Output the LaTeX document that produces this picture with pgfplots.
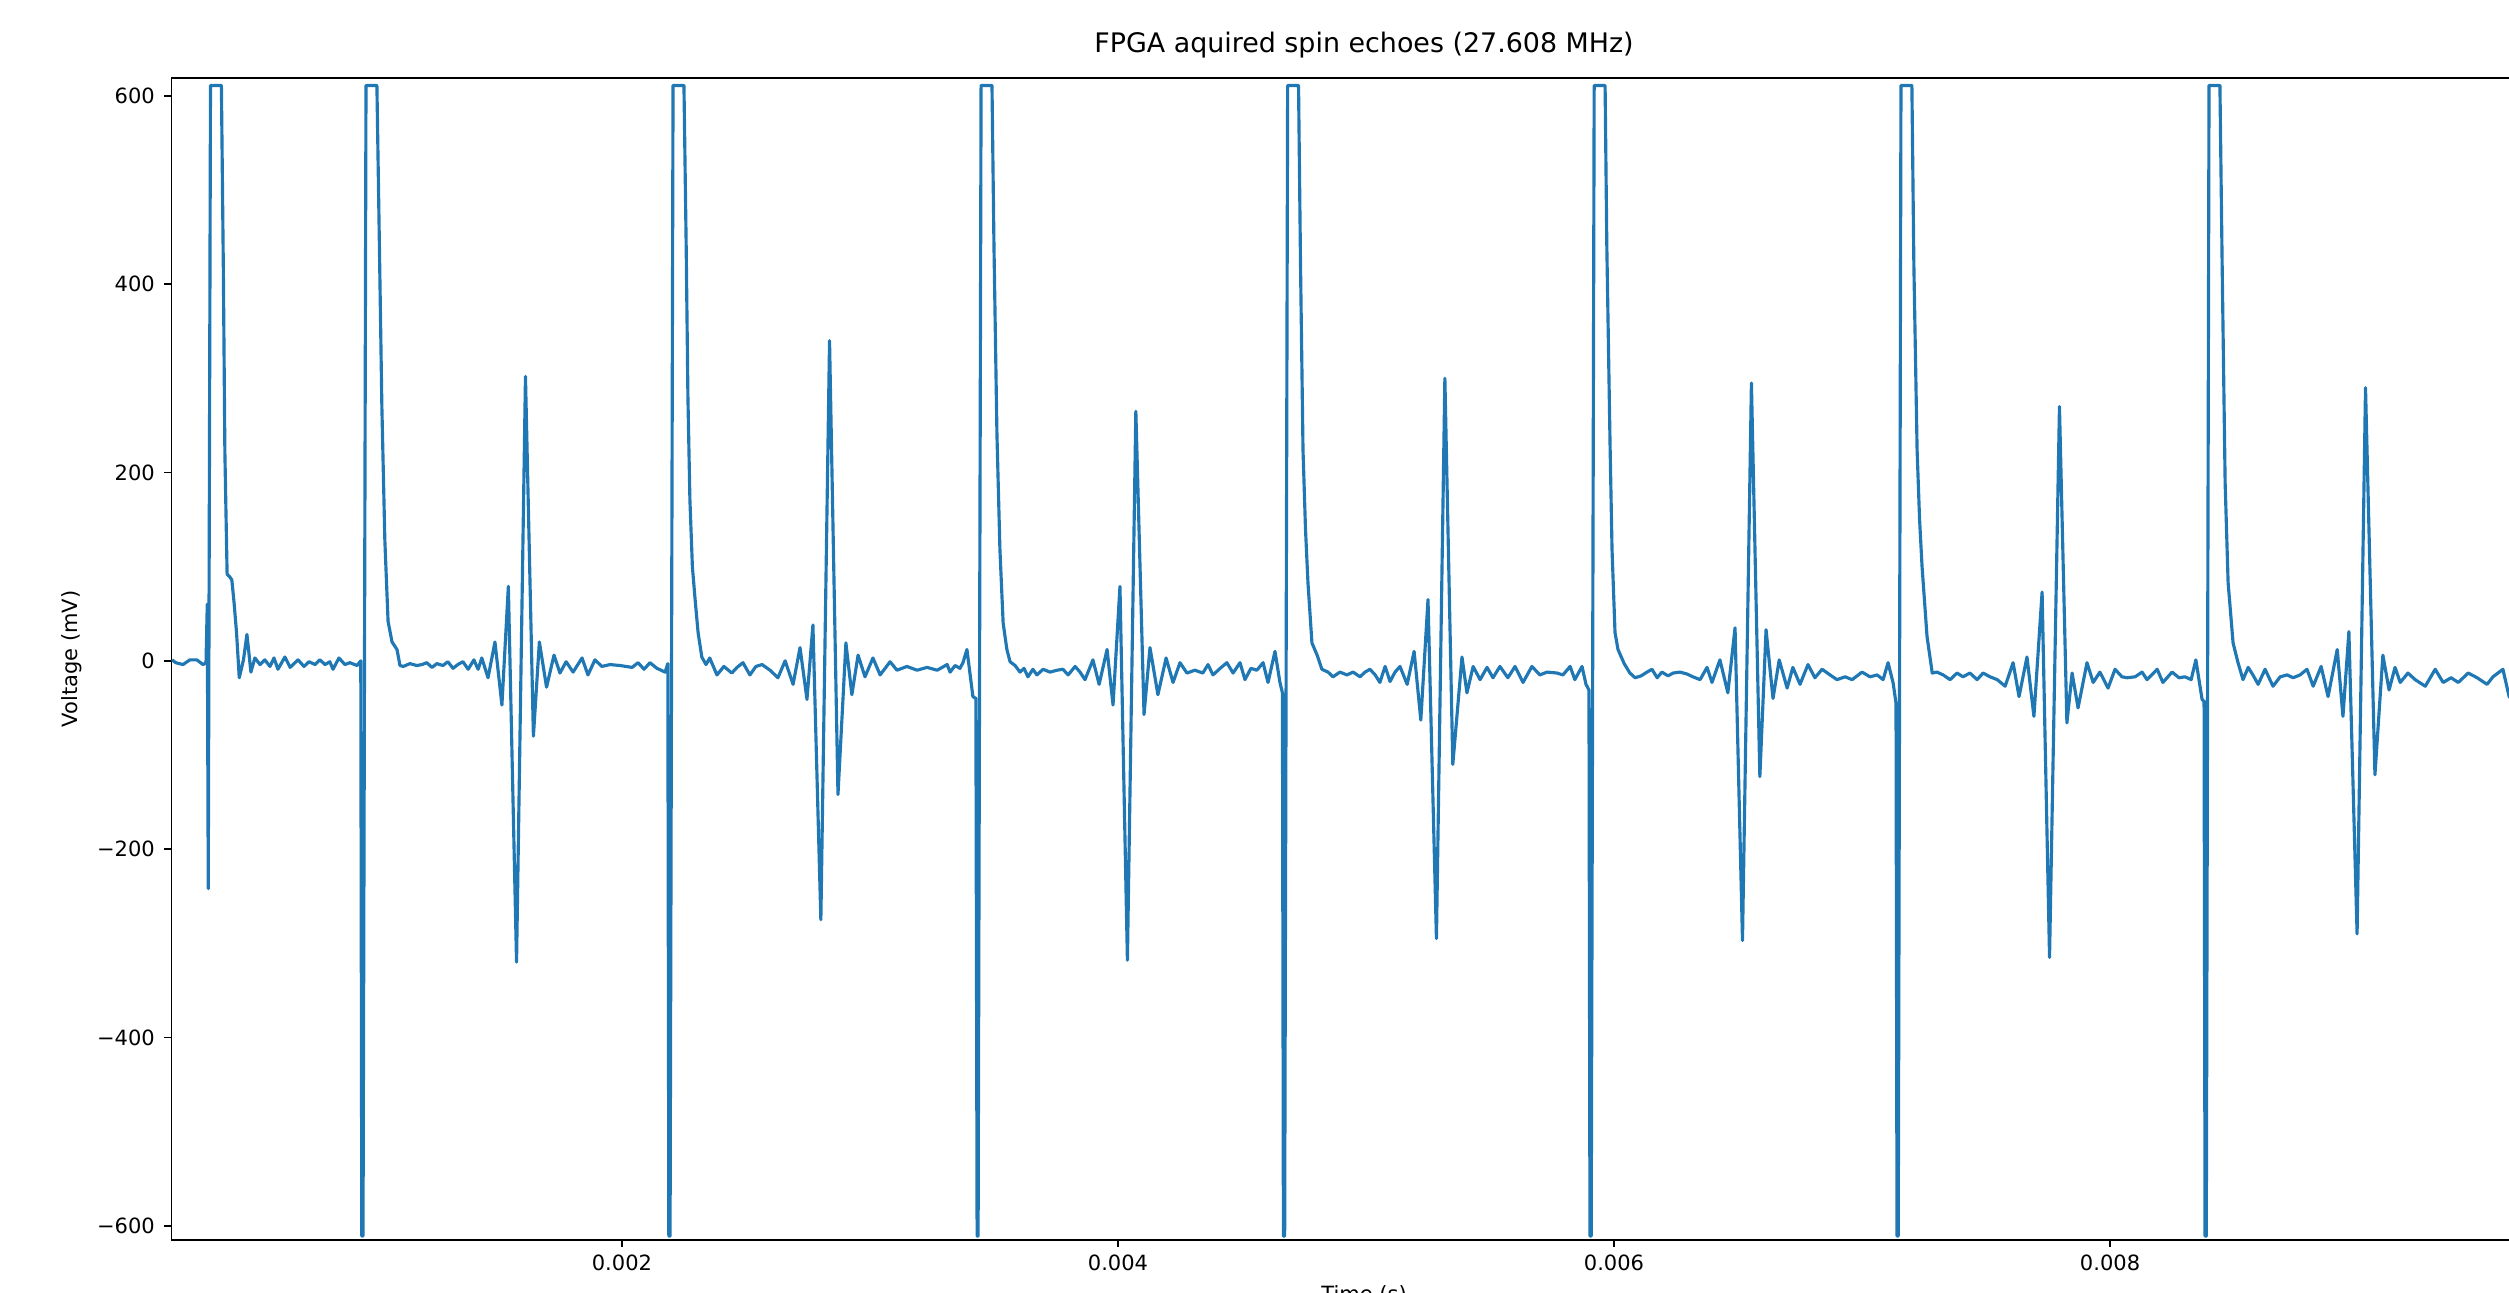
\documentclass[border=0pt]{standalone}
\usepackage{fontspec}
\setmainfont{DejaVu Sans}
\usepackage{pgfplots}
\pgfplotsset{compat=1.18}
\definecolor{mplblue}{RGB}{31,119,180}
% time in microseconds, voltage in mV
\begin{document}
\begin{tikzpicture}
\useasboundingbox (-81.6pt,-25.2pt) rectangle (1112.7pt,590.2pt);
\begin{axis}[
    at={(0pt,0pt)}, anchor=south west,
    scale only axis,
    width=1135.3pt, height=553.1pt,
    xmin=183.5, xmax=9800.5,
    ymin=-615, ymax=619,
    axis line style={line width=0.8pt, black},
    tick align=outside,
    major tick length=3.5pt,
    every tick/.style={black, line width=0.8pt},
    tick pos=left,
    xtick={2000,4000,6000,8000},
    xticklabels={0.002,0.004,0.006,0.008},
    ytick={-600,-400,-200,0,200,400,600},
    yticklabels={−600,−400,−200,0,200,400,600},
    ticklabel style={font=\fontsize{10}{12}\selectfont, inner sep=0pt},
    xticklabel style={anchor=north, yshift=-3.6pt},
    yticklabel style={anchor=east, xshift=-4.2pt},
    title={FPGA aquired spin echoes (27.608 MHz)},
    title style={at={(axis description cs:0.5,1)}, anchor=base, yshift=6.2pt,
        font=\fontsize{12.8}{15}\selectfont, inner sep=0pt},
    xlabel={Time (s)},
    xlabel style={at={(axis description cs:0.5,0)}, anchor=base, yshift=-29.5pt,
        font=\fontsize{10}{12}\selectfont, inner sep=0pt},
    ylabel={Voltage (mV)},
    ylabel style={at={(axis description cs:-0.0417,0.5)}, anchor=center,
        font=\fontsize{10}{12}\selectfont, inner sep=0pt},
]
\addplot[mplblue, line width=1.5pt, line join=round, mark=none] coordinates {
(186,1) (201,-2) (230,-4) (258,1) (286,1) (311,-4) (323,-2) (328,60) (332,-242)
(341,611) (385,611) (393,412) (399,222) (408,92) (419,89) (427,86) (436,62) (446,30)
(457,-18) (474,1) (488,28) (504,-12) (520,3) (541,-4) (560,1) (581,-6) (597,3) (613,-9)
(641,4) (662,-7) (694,1) (718,-6) (738,-1) (763,-4) (782,1) (803,-4) (822,-1) (835,-9)
(859,3) (883,-4) (903,-2) (932,-5) (947,0)
(951,-611) (956,-611) (968,611) (1012,611) (1021,459) (1032,270) (1044,128) (1057,42)
(1073,20) (1093,12) (1105,-5) (1118,-6)
(1145,-3) (1173,-5) (1194,-4) (1213,-2) (1234,-7) (1254,-3) (1278,-5) (1298,-1)
(1319,-8) (1338,-4) (1359,-1) (1380,-9) (1403,1) (1420,-9) (1435,3) (1460,-18)
(1488,20) (1516,-47) (1542,79) (1575,-320) (1611,302) (1643,-80) (1667,20) (1696,-28)
(1726,6) (1750,-13) (1775,-1) (1803,-12) (1839,3) (1863,-15) (1891,1) (1919,-6)
(1952,-4) (1992,-5) (2041,-7) (2065,-2) (2089,-9) (2113,-2) (2141,-8) (2174,-12) (2185,-3)
(2189,-611) (2194,-611) (2206,611) (2250,611) (2259,440) (2266,280) (2274,171)
(2284,100) (2295,65) (2307,30) (2322,4) (2339,-4)
(2354,3) (2383,-15) (2411,-6) (2443,-13) (2464,-7) (2488,-2) (2516,-15) (2540,-6)
(2565,-4) (2597,-10) (2629,-18) (2658,0) (2690,-25) (2718,14) (2746,-41) (2770,38)
(2802,-275) (2837,340) (2871,-142) (2903,19) (2927,-36) (2952,6) (2980,-17) (3012,3)
(3041,-15) (3081,-1) (3109,-10) (3149,-6) (3190,-10) (3230,-7) (3271,-10) (3311,-4)
(3323,-12) (3343,-5) (3363,-8) (3375,-2) (3391,12) (3415,-38) (3427,-40)
(3432,-611) (3436,-611) (3448,611) (3492,611) (3500,440) (3512,240) (3524,118)
(3537,40) (3552,12) (3565,-1)
(3585,-5) (3605,-12) (3621,-8) (3637,-17) (3657,-9) (3673,-15) (3698,-9) (3726,-12)
(3754,-10) (3778,-9) (3799,-15) (3827,-6) (3847,-12) (3867,-20) (3899,1) (3924,-25)
(3956,12) (3980,-47) (4008,79) (4038,-318) (4072,265) (4105,-57) (4129,14) (4161,-36)
(4194,3) (4222,-23) (4250,-2) (4278,-13) (4310,-10) (4342,-13) (4363,-4) (4383,-15)
(4412,-8) (4439,-2) (4464,-13) (4492,-2) (4512,-20) (4536,-8) (4560,-10) (4585,-2)
(4605,-23) (4633,10) (4653,-23) (4663,-34)
(4667,-611) (4672,-611) (4684,611) (4728,611) (4736,420) (4746,224) (4756,140)
(4766,83) (4782,19) (4803,6) (4822,-9)
(4847,-12) (4867,-17) (4895,-12) (4923,-15) (4948,-12) (4976,-17) (4996,-12) (5016,-9)
(5037,-15) (5056,-23) (5077,-6) (5097,-22) (5117,-12) (5137,-6) (5166,-25) (5194,10)
(5221,-63) (5250,65) (5284,-295) (5318,300) (5350,-110) (5387,4) (5407,-34) (5432,-6)
(5460,-20) (5488,-7) (5512,-18) (5540,-6) (5572,-18) (5601,-6) (5633,-23) (5669,-6)
(5701,-15) (5730,-12) (5770,-13) (5794,-15) (5823,-6) (5842,-20) (5871,-6) (5887,-25)
(5899,-31)
(5903,-611) (5908,-611) (5920,611) (5964,611) (5971,440) (5984,230) (5992,118)
(6004,30) (6016,12) (6041,-3) (6064,-13)
(6085,-18) (6109,-16) (6133,-12) (6153,-9) (6174,-18) (6193,-12) (6218,-16) (6238,-13)
(6266,-12) (6294,-14) (6318,-17) (6347,-20) (6375,-7) (6395,-23) (6427,1) (6459,-34)
(6488,35) (6518,-297) (6554,295) (6588,-123) (6613,33) (6641,-40) (6666,1) (6698,-29)
(6721,-7) (6750,-25) (6782,-4) (6810,-18) (6839,-9) (6871,-15) (6899,-20) (6932,-17)
(6960,-20) (7000,-12) (7032,-17) (7061,-15) (7085,-20) (7105,-2) (7125,-23) (7137,-45)
(7141,-611) (7146,-611) (7157,611) (7201,611) (7209,420) (7222,224) (7232,150)
(7242,100) (7262,26) (7283,-13)
(7302,-12) (7327,-15) (7355,-20) (7383,-13) (7407,-17) (7435,-13) (7464,-20) (7488,-13)
(7516,-17) (7545,-20) (7577,-27) (7609,-2) (7633,-38) (7665,4) (7693,-59) (7726,73)
(7756,-315) (7796,270) (7826,-66) (7847,-13) (7871,-50) (7907,-2) (7932,-23) (7959,-12)
(7992,-29) (8020,-9) (8048,-17) (8069,-18) (8101,-17) (8129,-12) (8149,-20) (8190,-9)
(8213,-23) (8250,-12) (8278,-18) (8302,-17) (8327,-20) (8346,1) (8371,-41) (8379,-43)
(8383,-611) (8388,-611) (8399,611) (8443,611) (8452,420) (8464,189) (8476,83)
(8496,19) (8516,-2) (8536,-20)
(8557,-7) (8576,-15) (8597,-25) (8625,-9) (8657,-27) (8686,-17) (8714,-15) (8738,-18)
(8766,-15) (8794,-9) (8819,-27) (8851,-6) (8879,-38) (8916,12) (8939,-59) (8963,31)
(8996,-290) (9030,290) (9068,-121) (9100,6) (9125,-31) (9149,-7) (9170,-23) (9201,-13)
(9230,-20) (9271,-27) (9311,-9) (9343,-23) (9375,-18) (9404,-23) (9444,-13) (9480,-18)
(9520,-25) (9544,-17) (9584,-9) (9609,-38) (9633,-45)
};
\end{axis}
\end{tikzpicture}
\end{document}
